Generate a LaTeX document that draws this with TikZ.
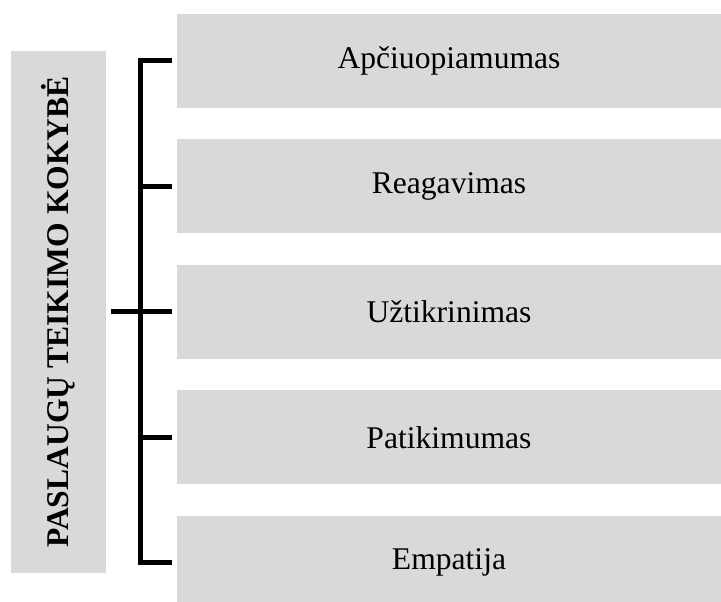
\documentclass[tikz,border=0pt]{standalone}
\usepackage{fontspec}
\setmainfont{Liberation Serif}
\usetikzlibrary{positioning}
\definecolor{boxgray}{HTML}{D9D9D9}

\begin{document}
\begin{tikzpicture}[x=1pt,y=-1pt,
  box/.style={fill=boxgray,inner sep=0pt,minimum width=544pt,minimum height=94pt,
    font=\fontsize{31.6}{36}\selectfont},
  sidebox/.style={fill=boxgray,inner sep=0pt,minimum width=522pt,minimum height=95pt,
    rotate=90,font=\fontsize{31.6}{36}\selectfont\bfseries},
  bracket/.style={line width=5pt,color=black}]
\useasboundingbox (0,0) rectangle (721,602);

\node[sidebox] (kokybe) at (58.5,312) {PASLAUGŲ TEIKIMO KOKYBĖ};

\node[box] (apc) at (449,61) {Apčiuopiamumas};
\node[box,below=31pt of apc] (rea) {Reagavimas};
\node[box,below=31pt of rea] (uzt) {Užtikrinimas};
\node[box,below=31pt of uzt] (pat) {Patikimumas};
\node[box,below=31pt of pat] (emp) {Empatija};

\draw[bracket] ([xshift=-5pt]apc.west) -- ++(-31,0) |- ([xshift=-5pt]emp.west);
\foreach \n in {rea,pat}
  \draw[bracket] ([xshift=-5pt]\n.west) -- ++(-31,0);
\draw[bracket] ([xshift=-5pt]uzt.west) -- ([xshift=5pt]kokybe.south |- uzt.west);

\end{tikzpicture}
\end{document}
